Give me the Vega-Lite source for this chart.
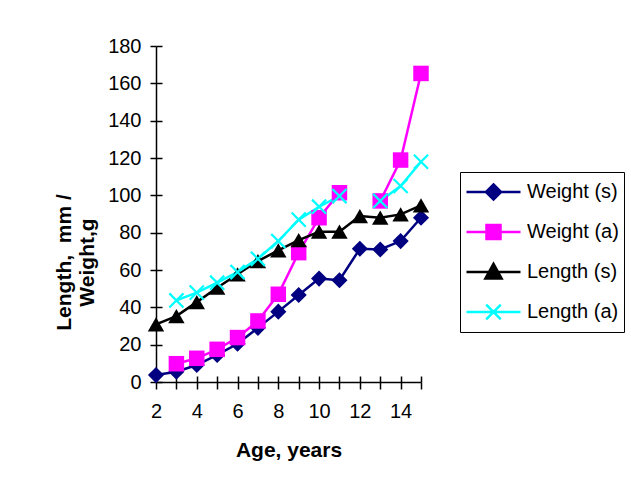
{
  "$schema": "https://vega.github.io/schema/vega-lite/v6.json",
  "width": 265,
  "height": 336,
  "autosize": {"type": "none"},
  "padding": {"left": 156, "top": 46, "right": 210, "bottom": 115},
  "background": "white",
  "config": {
    "view": {"stroke": null},
    "font": "Liberation Sans",
    "axis": {
      "grid": false,
      "domainColor": "black",
      "domainWidth": 1.5,
      "tickColor": "black",
      "tickWidth": 1.5,
      "labelColor": "black",
      "titleColor": "black",
      "labelFont": "Liberation Sans",
      "titleFont": "Liberation Sans",
      "labelFontSize": 20,
      "titleFontSize": 21,
      "titleFontWeight": "bold"
    }
  },
  "data": {
    "values": [
      {"age": 2, "series": "Weight (s)", "value": 3.7},
      {"age": 3, "series": "Weight (s)", "value": 5.5},
      {"age": 4, "series": "Weight (s)", "value": 9.1},
      {"age": 5, "series": "Weight (s)", "value": 14.5},
      {"age": 6, "series": "Weight (s)", "value": 20.5},
      {"age": 7, "series": "Weight (s)", "value": 29},
      {"age": 8, "series": "Weight (s)", "value": 37.7},
      {"age": 9, "series": "Weight (s)", "value": 46.6},
      {"age": 10, "series": "Weight (s)", "value": 55.4},
      {"age": 11, "series": "Weight (s)", "value": 54.5},
      {"age": 12, "series": "Weight (s)", "value": 71.4},
      {"age": 13, "series": "Weight (s)", "value": 71},
      {"age": 14, "series": "Weight (s)", "value": 75.5},
      {"age": 15, "series": "Weight (s)", "value": 88},
      {"age": 3, "series": "Weight (a)", "value": 9.8},
      {"age": 4, "series": "Weight (a)", "value": 12.7},
      {"age": 5, "series": "Weight (a)", "value": 17.5},
      {"age": 6, "series": "Weight (a)", "value": 23.8},
      {"age": 7, "series": "Weight (a)", "value": 32.7},
      {"age": 8, "series": "Weight (a)", "value": 47},
      {"age": 9, "series": "Weight (a)", "value": 69.3},
      {"age": 10, "series": "Weight (a)", "value": 88},
      {"age": 11, "series": "Weight (a)", "value": 101.4},
      {"age": 12, "series": "Weight (a)", "value": null},
      {"age": 13, "series": "Weight (a)", "value": 97},
      {"age": 14, "series": "Weight (a)", "value": 118.9},
      {"age": 15, "series": "Weight (a)", "value": 165.3},
      {"age": 2, "series": "Length (s)", "value": 30.9},
      {"age": 3, "series": "Length (s)", "value": 35.3},
      {"age": 4, "series": "Length (s)", "value": 42.8},
      {"age": 5, "series": "Length (s)", "value": 50.5},
      {"age": 6, "series": "Length (s)", "value": 57.7},
      {"age": 7, "series": "Length (s)", "value": 64.8},
      {"age": 8, "series": "Length (s)", "value": 70.5},
      {"age": 9, "series": "Length (s)", "value": 76},
      {"age": 10, "series": "Length (s)", "value": 80.5},
      {"age": 11, "series": "Length (s)", "value": 80.5},
      {"age": 12, "series": "Length (s)", "value": 88.9},
      {"age": 13, "series": "Length (s)", "value": 88},
      {"age": 14, "series": "Length (s)", "value": 89.8},
      {"age": 15, "series": "Length (s)", "value": 94.6},
      {"age": 3, "series": "Length (a)", "value": 43.7},
      {"age": 4, "series": "Length (a)", "value": 47.9},
      {"age": 5, "series": "Length (a)", "value": 53.2},
      {"age": 6, "series": "Length (a)", "value": 58.9},
      {"age": 7, "series": "Length (a)", "value": 66},
      {"age": 8, "series": "Length (a)", "value": 75.5},
      {"age": 9, "series": "Length (a)", "value": 87},
      {"age": 10, "series": "Length (a)", "value": 93.9},
      {"age": 11, "series": "Length (a)", "value": 99.6},
      {"age": 12, "series": "Length (a)", "value": null},
      {"age": 13, "series": "Length (a)", "value": 97},
      {"age": 14, "series": "Length (a)", "value": 105},
      {"age": 15, "series": "Length (a)", "value": 118}
    ]
  },
  "layer": [
    {
      "mark": {"type": "line", "strokeWidth": 2.5, "invalid": "break-paths-show-domains"},
      "encoding": {
        "x": {
          "field": "age", "type": "quantitative",
          "scale": {"domain": [2, 15], "nice": false, "zero": false},
          "axis": {
            "values": [2, 3, 4, 5, 6, 7, 8, 9, 10, 11, 12, 13, 14, 15],
            "labelExpr": "datum.value % 2 == 0 ? datum.label : ''",
            "tickSize": 7,
            "labelPadding": 12,
            "labelFlush": false,
            "labelOverlap": false,
            "title": "Age, years",
            "titlePadding": 18
          }
        },
        "y": {
          "field": "value", "type": "quantitative",
          "scale": {"domain": [0, 180], "nice": false},
          "axis": {
            "values": [0, 20, 40, 60, 80, 100, 120, 140, 160, 180],
            "tickSize": 6,
            "labelPadding": 9,
            "labelFlush": false,
            "labelOverlap": false,
            "title": ["Length, \u00a0mm /", "Weight,g"],
            "titlePadding": 10,
            "titleY": 216
          }
        },
        "color": {
          "field": "series", "type": "nominal",
          "scale": {
            "domain": ["Weight (s)", "Weight (a)", "Length (s)", "Length (a)"],
            "range": ["#000080", "#FF00FF", "#000000", "#00FFFF"]
          },
          "legend": {
            "orient": "none",
            "legendX": 304,
            "legendY": 126,
            "title": null,
            "strokeColor": "black",
            "fillColor": "white",
            "padding": 5,
            "symbolSize": 2916,
            "symbolStrokeWidth": 2.5,
            "symbolOffset": 0,
            "clipHeight": 30,
            "rowPadding": 10,
            "labelOffset": 5,
            "labelFontSize": 20,
            "labelFont": "Liberation Sans",
            "labelColor": "black",
            "labelLimit": 250,
            "encode": {
              "labels": {
                "update": {
                  "text": {"signal": "datum.label + '\u00a0\u00a0\u00a0\u00a0'"}
                }
              },
              "symbols": {
                "update": {
                  "shape": {"signal": "datum.value == 'Weight (s)' ? 'M-1,0H1M0,-0.28L0.28,0L0,0.28L-0.28,0Z' : datum.value == 'Weight (a)' ? 'M-1,0H1M-0.26,-0.26H0.26V0.26H-0.26Z' : datum.value == 'Length (s)' ? 'M-1,0H1M0,-0.3L0.3,0.24L-0.3,0.24Z' : 'M-1,0H1M-0.27,-0.27L0.27,0.27M0.27,-0.27L-0.27,0.27'"},
                  "fill": {"signal": "datum.value == 'Weight (s)' ? '#000080' : datum.value == 'Weight (a)' ? '#FF00FF' : datum.value == 'Length (s)' ? '#000000' : '#00FFFF'"},
                  "strokeWidth": {"value": 2.5},
                  "opacity": {"value": 1}
                }
              }
            }
          }
        }
      }
    },
    {
      "transform": [{"filter": "datum.series == 'Weight (s)'"}],
      "mark": {"type": "point", "shape": "diamond", "filled": true, "color": "#000080", "size": 260, "opacity": 1},
      "encoding": {
        "x": {
          "field": "age", "type": "quantitative",
          "axis": {
            "orient": "bottom",
            "values": [2, 3, 4, 5, 6, 7, 8, 9, 10, 11, 12, 13, 14, 15],
            "tickSize": -6,
            "labels": false,
            "domain": false,
            "title": null
          }
        },
        "y": {
          "field": "value", "type": "quantitative",
          "axis": {
            "orient": "left",
            "values": [0, 20, 40, 60, 80, 100, 120, 140, 160, 180],
            "tickSize": -6,
            "labels": false,
            "domain": false,
            "title": null
          }
        }
      }
    },
    {
      "transform": [{"filter": "datum.series == 'Weight (a)' && isValid(datum.value)"}],
      "mark": {"type": "point", "shape": "square", "filled": true, "color": "#FF00FF", "size": 240, "opacity": 1},
      "encoding": {
        "x": {"field": "age", "type": "quantitative", "axis": null},
        "y": {"field": "value", "type": "quantitative", "axis": null}
      }
    },
    {
      "transform": [{"filter": "datum.series == 'Length (s)'"}],
      "mark": {"type": "point", "shape": "triangle-up", "filled": true, "color": "#000000", "size": 270, "opacity": 1},
      "encoding": {
        "x": {"field": "age", "type": "quantitative", "axis": null},
        "y": {"field": "value", "type": "quantitative", "axis": null}
      }
    },
    {
      "transform": [{"filter": "datum.series == 'Length (a)' && isValid(datum.value)"}],
      "mark": {"type": "point", "shape": "M-1,-1L1,1M1,-1L-1,1", "filled": false, "color": "#00FFFF", "strokeWidth": 2.2, "size": 200, "opacity": 1},
      "encoding": {
        "x": {"field": "age", "type": "quantitative", "axis": null},
        "y": {"field": "value", "type": "quantitative", "axis": null}
      }
    }
  ],
  "resolve": {"axis": {"x": "independent", "y": "independent"}}
}
